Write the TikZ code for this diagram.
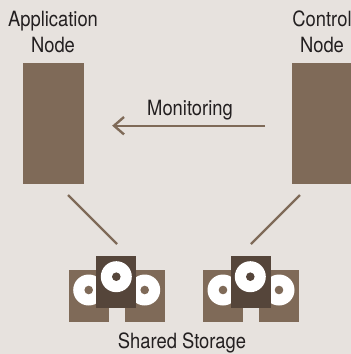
\documentclass[tikz,border=0pt]{standalone}
\usepackage{fontspec}
\setmainfont[FakeStretch=0.875]{TeX Gyre Heros}
\definecolor{bgc}{HTML}{E7E2DE}
\definecolor{brownc}{HTML}{7F6A58}
\definecolor{darkc}{HTML}{55453A}
\definecolor{inkc}{HTML}{231F20}
\tikzset{
  x=1pt,y=-1pt,
  server/.style={fill=brownc,draw=none,minimum width=61pt,minimum height=121pt,inner sep=0pt,outer sep=0pt},
  cabinet/.style={fill=brownc,draw=none,minimum width=40pt,minimum height=52pt,inner sep=0pt,outer sep=0pt},
  cabinetdark/.style={cabinet,fill=darkc},
  disc/.style={circle,fill=white,draw=none,minimum size=31pt,inner sep=0pt},
  hole/.style={circle,fill=#1,draw=none,minimum size=8.6pt,inner sep=0pt},
  label/.style={text=inkc,font=\fontsize{21}{26}\selectfont,align=center,inner sep=0pt},
  link/.style={draw=brownc,line width=2.4pt},
  flow/.style={draw=brownc,line width=2.4pt},
}
\begin{document}
\begin{tikzpicture}
\useasboundingbox (0,0) rectangle (351,354);
\fill[bgc] (0,0) rectangle (351,354);
\node[server] (app) at (53.5,123.5) {};
\node[server] (ctrl) at (322.5,123.5) {};
\node[label] (applabel) at (53,32) {Application\\Node};
\node[label] (ctrllabel) at (322,32) {Control\\Node};
% left storage
\node[cabinet] (sa1) at (89,296) {};
\node[cabinet] (sa3) at (145,296) {};
\node[disc] (da1) at (88.7,290) {};
\node[hole=brownc] (ha1) at (88.7,290) {};
\node[disc] (da3) at (144.7,290) {};
\node[hole=brownc] (ha3) at (144.7,290) {};
\node[cabinetdark] (sa2) at (116,282) {};
\node[disc] (da2) at (116.3,276.7) {};
\node[hole=darkc] (ha2) at (116.3,276.7) {};
% right storage
\node[cabinet] (sb1) at (223,296) {};
\node[cabinet] (sb3) at (279,296) {};
\node[disc] (db1) at (223,290) {};
\node[hole=brownc] (hb1) at (223,290) {};
\node[disc] (db3) at (279,290) {};
\node[hole=brownc] (hb3) at (279,290) {};
\node[cabinetdark] (sb2) at (251,282) {};
\node[disc] (db2) at (250.3,276.7) {};
\node[hole=darkc] (hb2) at (250.3,276.7) {};
\node[label] (shared) at (182,343) {Shared Storage};
\node[label] (mon) at (190,110) {Monitoring};
% connectors
\coordinate (l1) at (68,195);
\coordinate (l2) at (117,244);
\coordinate (r1) at (300,195);
\coordinate (r2) at (251,244);
\coordinate (a1) at (265,125.7);
\coordinate (a2) at (114,125.7);
\coordinate (t1) at (124,117);
\coordinate (t2) at (124,134.4);
\draw[link] (l1) -- (l2);
\draw[link] (r1) -- (r2);
\draw[flow] (a1) -- (a2);
\draw[flow,line join=miter] (t1) -- (a2) -- (t2);
\end{tikzpicture}
\end{document}
